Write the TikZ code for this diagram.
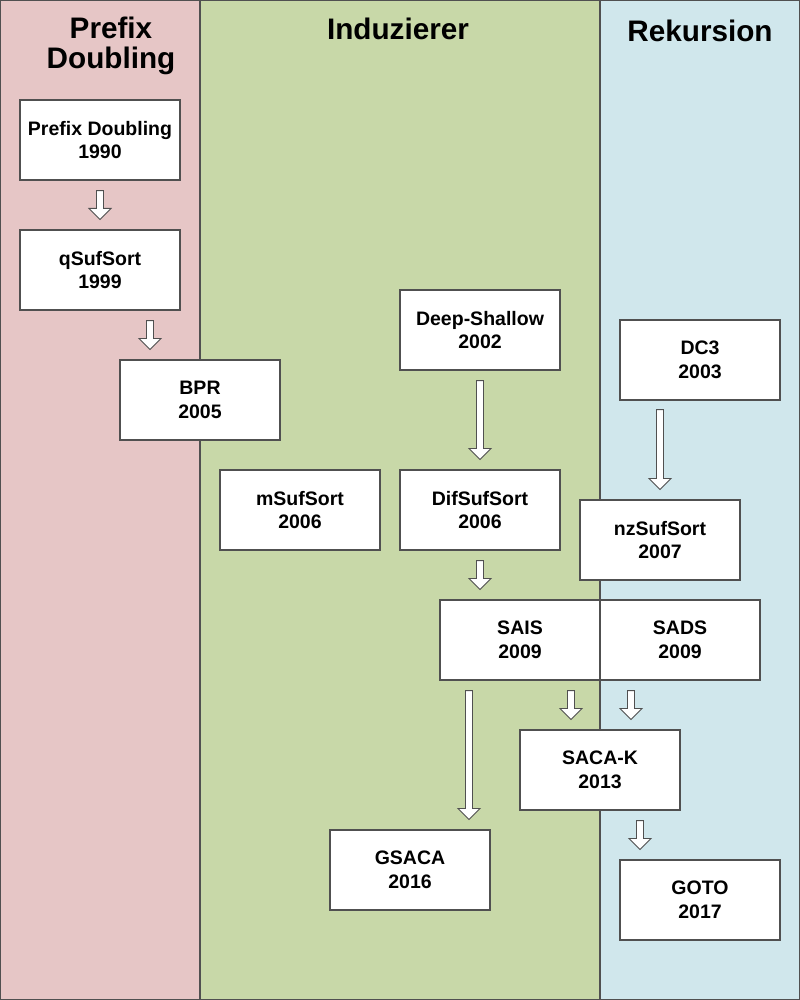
\documentclass[tikz,border=0pt]{standalone}
\usepackage{fontspec}
\setsansfont{Liberation Sans}
\usetikzlibrary{calc}
\definecolor{lanepink}{HTML}{E6C6C6}
\definecolor{lanegreen}{HTML}{C8D8A8}
\definecolor{laneblue}{HTML}{D0E7EC}
\definecolor{edgegray}{HTML}{505050}
\tikzset{x=0.02cm, y=-0.02cm, % One unit is one pixel, y runs downwards
lane/.style={draw=edgegray, line width=0.6pt},
title/.style={align=center, font=\sffamily\bfseries\fontsize{16.9}{17}\selectfont},
algo/.style={ % Box for one algorithm
draw=edgegray, line width=0.6pt, fill=white,
minimum width=3.2cm, minimum height=1.6cm,
align=center, font=\sffamily\bfseries\fontsize{11.1}{13.6}\selectfont},
blockarrow/.style={ % Hollow block arrow pointing down
draw=edgegray, line width=0.55pt, fill=white,
to path={let \p1=(\tikztostart), \p2=(\tikztotarget) in
(\x1-0.07cm,\y1) -- (\x1-0.07cm,\y2+0.22cm) -- (\x1-0.22cm,\y2+0.22cm) -- (\x1,\y2)
-- (\x1+0.22cm,\y2+0.22cm) -- (\x1+0.07cm,\y2+0.22cm) -- (\x1+0.07cm,\y1) -- cycle}}}

\begin{document}
\begin{tikzpicture}
    \useasboundingbox (0,0) rectangle (800,1000);
    % lanes
    \fill[lanepink] (0,0) rectangle (200,1000);
    \fill[lanegreen] (200,0) rectangle (600,1000);
    \fill[laneblue] (600,0) rectangle (800,1000);
    \draw[lane] (0,0) rectangle (800,1000);
    \draw[lane] (200,0) -- (200,1000);
    \draw[lane] (600,0) -- (600,1000);
    \node[title] (tpd) at (111,46) {Prefix\\Doubling};
    \node[title] (tind) at (398,29) {Induzierer};
    \node[title] (trek) at (700,31) {Rekursion};
    % algorithms
    \node[algo] (pd) at (100,140) {Prefix Doubling\\1990};
    \node[algo] (qsuf) at (100,270) {qSufSort\\1999};
    \node[algo] (bpr) at (200,400) {BPR\\2005};
    \node[algo] (deep) at (480,330) {Deep-Shallow\\2002};
    \node[algo] (dc3) at (700,360) {DC3\\2003};
    \node[algo] (msuf) at (300,510) {mSufSort\\2006};
    \node[algo] (dif) at (480,510) {DifSufSort\\2006};
    \node[algo] (nzsuf) at (660,540) {nzSufSort\\2007};
    \node[algo] (sais) at (520,640) {SAIS\\2009};
    \node[algo] (sads) at (680,640) {SADS\\2009};
    \node[algo] (sacak) at (600,770) {SACA-K\\2013};
    \node[algo] (gsaca) at (410,870) {GSACA\\2016};
    \node[algo] (goto) at (700,900) {GOTO\\2017};
    % arrows
    \draw[blockarrow] ([shift={(0,10)}]pd.south) to ([shift={(0,-10)}]qsuf.north);
    \draw[blockarrow] ([shift={(50,10)}]qsuf.south) to ([shift={(-50,-10)}]bpr.north);
    \draw[blockarrow] ([shift={(0,10)}]deep.south) to ([shift={(0,-10)}]dif.north);
    \draw[blockarrow] ([shift={(-40,9)}]dc3.south) to ([shift={(0,-10)}]nzsuf.north);
    \draw[blockarrow] ([shift={(0,10)}]dif.south) to ([shift={(-40,-10)}]sais.north);
    \draw[blockarrow] ([shift={(-51,10)}]sais.south) to ([shift={(59,-10)}]gsaca.north);
    \draw[blockarrow] ([shift={(51,10)}]sais.south) to ([shift={(-29,-10)}]sacak.north);
    \draw[blockarrow] ([shift={(-49,10)}]sads.south) to ([shift={(31,-10)}]sacak.north);
    \draw[blockarrow] ([shift={(40,10)}]sacak.south) to ([shift={(-60,-10)}]goto.north);
\end{tikzpicture}
\end{document}
